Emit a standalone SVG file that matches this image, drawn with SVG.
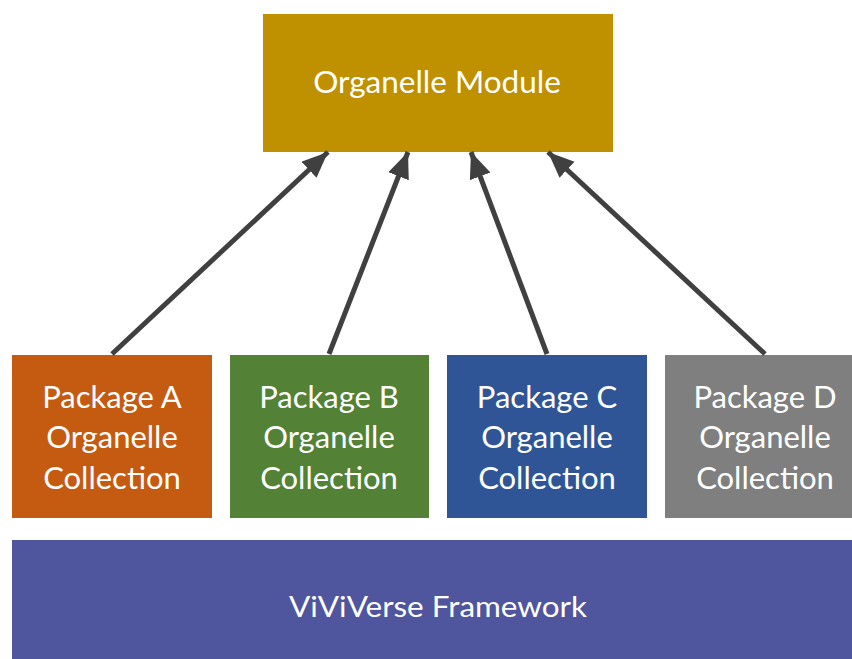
<svg xmlns="http://www.w3.org/2000/svg" width="852" height="659" viewBox="0 0 852 659">
<style>
.lbl{font-family:Lato,"Open Sans","Liberation Sans",sans-serif;fill:#fff;text-anchor:middle}
.pk{font-size:31px}
.conn{stroke:#404040;stroke-width:5;fill:none}
</style>
<defs>
<marker id="ah" markerUnits="userSpaceOnUse" markerWidth="30" markerHeight="24" refX="26" refY="11" orient="auto">
<path d="M0,0 L26,11 L0,22 Z" fill="#404040"/>
</marker>
</defs>
<rect width="852" height="659" fill="#fff"/>
<g id="organelle-module">
<rect x="263" y="14" width="350" height="138" fill="#BF9000"/>
<text class="lbl" x="437" y="93" font-size="31.5">Organelle Module</text>
</g>
<g id="package-a">
<rect x="12" y="355" width="200" height="163" fill="#C55A11"/>
<text class="lbl pk" x="112" y="408">Package A</text>
<text class="lbl pk" x="112" y="448">Organelle</text>
<text class="lbl pk" x="112" y="489">Collection</text>
</g>
<g id="package-b">
<rect x="230" y="355" width="199" height="163" fill="#538135"/>
<text class="lbl pk" x="329" y="408">Package B</text>
<text class="lbl pk" x="329" y="448">Organelle</text>
<text class="lbl pk" x="329" y="489">Collection</text>
</g>
<g id="package-c">
<rect x="447" y="355" width="200" height="163" fill="#2F5597"/>
<text class="lbl pk" x="547" y="408">Package C</text>
<text class="lbl pk" x="547" y="448">Organelle</text>
<text class="lbl pk" x="547" y="489">Collection</text>
</g>
<g id="package-d">
<rect x="665" y="355" width="200" height="163" fill="#7F7F7F"/>
<text class="lbl pk" x="765" y="408">Package D</text>
<text class="lbl pk" x="765" y="448">Organelle</text>
<text class="lbl pk" x="765" y="489">Collection</text>
</g>
<g id="viviverse-framework">
<rect x="12" y="540" width="852" height="130" fill="#4F569E"/>
<text class="lbl" x="438" y="617" font-size="28" textLength="298" lengthAdjust="spacingAndGlyphs">ViViVerse Framework</text>
</g>
<g id="connectors">
<line class="conn" x1="112" y1="354" x2="328" y2="152" marker-end="url(#ah)"/>
<line class="conn" x1="329" y1="354" x2="408" y2="152" marker-end="url(#ah)"/>
<line class="conn" x1="547" y1="354" x2="471" y2="152" marker-end="url(#ah)"/>
<line class="conn" x1="765" y1="354" x2="548" y2="152" marker-end="url(#ah)"/>
</g>
</svg>
